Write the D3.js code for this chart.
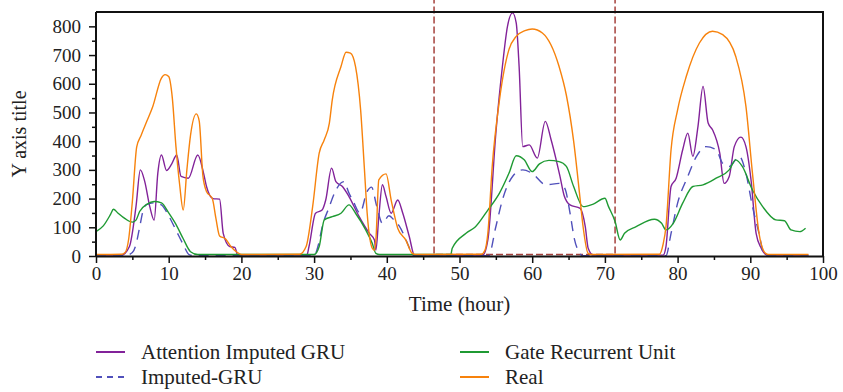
<!DOCTYPE html>
<html>
<head>
<meta charset="utf-8">
<script src="https://cdn.jsdelivr.net/npm/d3@7"></script>
<style>
  body { margin: 0; background: #fff; }
  svg text { font-family: "Liberation Serif", "DejaVu Serif", serif; fill: #222; }
</style>
</head>
<body>
<div id="chartdiv"></div>
<script>
// values, [hour, value]
var attention = [[0,3],[3.5,3],[4.6,33],[5.5,172],[6.1,300],[6.7,260],[7.4,172],[8,125],[8.5,288],[9,352],[9.7,298],[10.4,320],[11.1,352],[11.7,277],[12.7,271],[14,352],[14.8,288],[15.2,242],[16.1,200],[17,198],[17.5,79],[18.4,33],[19.1,30],[19.5,3],[29,3],[29.3,33],[30.2,149],[31.1,160],[31.6,195],[32.4,306],[33,259],[33.9,242],[34.8,207],[36.2,137],[37.6,79],[38.3,56],[38.5,21],[38.9,137],[39.4,248],[39.9,207],[40.6,149],[41.5,195],[42.2,149],[43.1,67],[43.8,3],[53.2,3],[53.9,56],[55,428],[55.9,660],[56.6,800],[57.3,847],[57.8,812],[58.2,660],[58.7,381],[59.6,387],[60.7,341],[61.8,469],[62.6,405],[63.3,335],[63.8,280],[64.4,210],[65.2,178],[66.6,166],[67.3,102],[67.7,27],[68.4,3],[78,3],[78.4,33],[79.1,242],[79.8,271],[80.7,370],[81.4,428],[82.1,347],[82.8,451],[83.5,591],[84.2,463],[84.8,440],[85.8,358],[86.4,253],[87.1,277],[87.8,381],[88.7,414],[89.4,381],[90.1,265],[90.8,79],[91.5,27],[92.4,3],[98,3]];

var imputed = [[0,1],[4,1],[5,12],[5.5,40],[6,100],[6.5,160],[7,180],[8,185],[9,178],[10,140],[11,90],[12,40],[12.8,5],[13.5,1],[30,1],[30.6,40],[31.1,100],[32.1,172],[32.8,219],[34.1,259],[34.8,219],[35.4,190],[36.3,150],[37.3,225],[37.9,240],[38.6,175],[39.4,114],[40.3,140],[41,125],[41.7,105],[43,35],[43.6,1],[54,1],[55,102],[55.9,195],[57.3,277],[58.7,300],[60,288],[61.9,248],[63.7,253],[64.5,235],[65.2,150],[65.8,60],[66.3,20],[67,1],[78.4,1],[79.1,79],[80,184],[81.4,277],[82.6,347],[83.9,381],[85.3,370],[86.2,323],[87.1,312],[88.5,347],[89.4,288],[90.3,172],[91.2,79],[91.9,5],[92.5,1],[98,1]];

var gru = [[0,85],[1,105],[2,145],[2.4,163],[3,150],[4,130],[5,118],[5.5,125],[6,155],[7,180],[8,190],[9,185],[10,150],[11,110],[12,60],[13,15],[14,5],[30,5],[30.7,33],[31.4,126],[32.5,137],[33.7,149],[34.8,178],[35.7,149],[37.1,91],[38,44],[38.5,9],[39,5],[48.8,5],[49,27],[50.9,79],[52.2,102],[53.9,160],[55.5,219],[56.8,288],[57.8,349],[58.9,335],[60,294],[61,321],[62.3,333],[63.7,329],[64.7,312],[65.7,242],[67,172],[68.4,181],[70,201],[70.5,172],[71.4,120],[72.1,56],[72.7,79],[74.3,102],[76.8,128],[77.8,114],[78.4,91],[79.4,114],[80.7,184],[82.1,242],[83.5,248],[85.3,271],[87.1,300],[88,335],[88.9,312],[90.3,230],[91.7,172],[93.5,126],[94.7,123],[95.6,91],[96.8,85],[97.6,97]];

var real = [[0,5],[3.5,6],[4,12],[4.5,60],[5,190],[5.6,380],[6.2,420],[7,470],[7.8,520],[9,620],[9.5,632],[10,625],[10.5,550],[11,380],[11.5,250],[12,160],[12.5,300],[13,420],[13.8,495],[14.2,470],[14.7,280],[15.2,225],[16,200],[16.5,130],[17,70],[17.8,60],[18.5,35],[19.3,15],[20,5],[28,6],[28.9,33],[29.8,172],[30.7,358],[31.4,405],[32.1,463],[32.5,544],[33.7,660],[34.4,710],[35,707],[35.7,660],[36.4,509],[36.9,312],[37.3,149],[38,27],[38.3,20],[38.5,56],[38.9,265],[39.9,286],[40.6,195],[41.5,97],[42.6,56],[43.5,9],[44,5],[53,6],[53.5,20],[53.9,79],[54.5,312],[55.5,544],[56.8,719],[57.8,765],[59,785],[60,791],[61.4,777],[63.7,660],[64.7,560],[65.7,400],[66.5,220],[67,102],[67.7,9],[68.2,5],[77.5,6],[78,40],[78.4,102],[79.1,370],[80,509],[81.2,626],[83,742],[84.8,783],[86.2,771],[88,695],[89.4,521],[90.3,288],[91.2,79],[92.1,9],[92.5,5],[98,5]];

// highlighted window (dashed box)
var windowHours = [46.5, 71.4];
var windowValues = [5, 900];

var xTicks = [0, 10, 20, 30, 40, 50, 60, 70, 80, 90, 100];
var yTicks = [0, 100, 200, 300, 400, 500, 600, 700, 800];

var series = [
  { name: "Attention Imputed GRU", data: attention, color: "#822299", dash: null },
  { name: "Imputed-GRU", data: imputed, color: "#5050bb", dash: "10,7" },
  { name: "Gate Recurrent Unit", data: gru, color: "#1f9a33", dash: null },
  { name: "Real", data: real, color: "#f7820c", dash: null }
];

var margin = {top: 12, right: 20, bottom: 136, left: 96},
    width = 823 - margin.left,
    height = 256 - margin.top;

var x = d3.scaleLinear().domain([0, 100]).range([0, width]);
var y = d3.scaleLinear().domain([0, 850]).range([height, 0]);

var svg = d3.select("#chartdiv").append("svg")
    .attr("width", 843)
    .attr("height", 392)
  .append("g")
    .attr("transform", "translate(" + margin.left + "," + margin.top + ")");

// dashed window box
svg.append("rect")
  .attr("x", x(windowHours[0]))
  .attr("y", y(windowValues[1]))
  .attr("width", x(windowHours[1]) - x(windowHours[0]))
  .attr("height", y(windowValues[0]) - y(windowValues[1]))
  .attr("fill", "none")
  .attr("stroke", "#a5423d")
  .attr("stroke-width", 1.5)
  .attr("stroke-dasharray", "7,3");

var line = d3.line()
  .x(d => x(d[0]))
  .y(d => y(d[1]))
  .curve(d3.curveMonotoneX);

svg.selectAll(".serie")
    .data(series)
  .enter().append("path")
    .attr("class", "serie")
    .attr("d", d => line(d.data))
    .attr("fill", "none")
    .attr("stroke", d => d.color)
    .attr("stroke-width", 1.4)
    .attr("stroke-dasharray", d => d.dash);

// frame
svg.append("path")
  .attr("d", "M0," + y(850) + "H" + width + "V" + height)
  .attr("fill", "none")
  .attr("stroke", "#111")
  .attr("stroke-width", 2);

// minor ticks
svg.append("g")
  .attr("transform", "translate(0," + height + ")")
  .call(d3.axisBottom(x).tickValues(d3.range(5, 100, 10)).tickSize(4).tickFormat(""))
  .call(g => g.select(".domain").remove())
  .selectAll("line").attr("stroke", "#111").attr("stroke-width", 1.5);
svg.append("g")
  .call(d3.axisLeft(y).tickValues(d3.range(50, 850, 100)).tickSize(4).tickFormat(""))
  .call(g => g.select(".domain").remove())
  .selectAll("line").attr("stroke", "#111").attr("stroke-width", 1.5);

// x axis
var xa = svg.append("g")
  .attr('class', 'xaxis')
  .attr("transform", "translate(0," + height + ")")
  .call(d3.axisBottom(x).tickValues(xTicks).tickSize(7).tickSizeOuter(0).tickPadding(4));
xa.select(".domain").attr("stroke", "#111").attr("stroke-width", 2);
xa.selectAll("line").attr("stroke", "#111").attr("stroke-width", 1.5);
xa.selectAll("text").attr("font-size", "19px").attr("fill", "#222")
  .attr("font-family", "Liberation Serif");

// y axis
var ya = svg.append("g")
  .attr('class', 'yaxis')
  .call(d3.axisLeft(y).tickValues(yTicks).tickSize(7).tickSizeOuter(0).tickPadding(8));
ya.select(".domain").attr("stroke", "#111").attr("stroke-width", 2)
  .attr("d", "M0," + y(850) + "V" + height);
ya.selectAll("line").attr("stroke", "#111").attr("stroke-width", 1.5);
ya.selectAll("text").attr("font-size", "19px").attr("fill", "#222")
  .attr("font-family", "Liberation Serif");

// axis titles
svg.append("text")
  .attr("x", width / 2)
  .attr("y", height + 55)
  .attr("text-anchor", "middle")
  .attr("font-size", "21px")
  .text("Time (hour)");

svg.append("text")
  .attr("transform", "translate(" + (-70) + "," + (height / 2) + ") rotate(-90)")
  .attr("text-anchor", "middle")
  .attr("font-size", "20px")
  .text("Y axis title");

// legend
var legendPos = [[96, 352], [96, 377], [460, 352], [460, 377]];
var legend = svg.append("g")
  .attr("transform", "translate(" + (-margin.left) + "," + (-margin.top) + ")");
series.forEach(function(s, i) {
  var p = legendPos[i];
  legend.append("line")
    .attr("x1", p[0]).attr("x2", p[0] + 29)
    .attr("y1", p[1]).attr("y2", p[1])
    .attr("stroke", s.color)
    .attr("stroke-width", 2)
    .attr("stroke-dasharray", s.dash ? "6,5" : null);
  legend.append("text")
    .attr("x", p[0] + 45)
    .attr("y", p[1] + 7)
    .attr("font-size", "21px")
    .text(s.name);
});
</script>
</body>
</html>
